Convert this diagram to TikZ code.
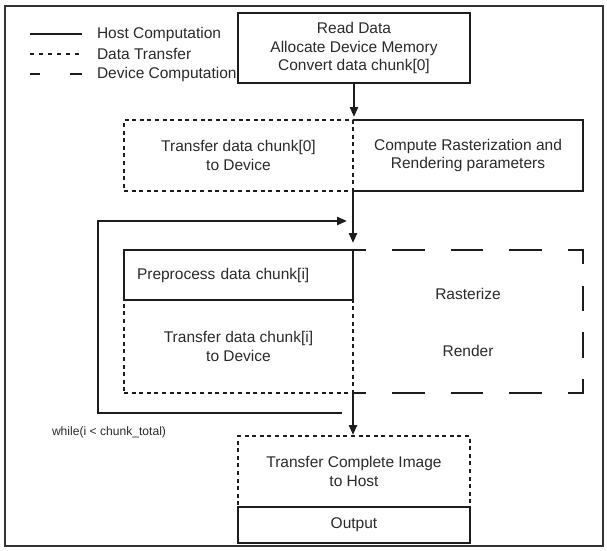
\documentclass[tikz,border=0pt]{standalone}
\usepackage{fontspec}
\setmainfont{Liberation Sans}
\usetikzlibrary{arrows.meta}
\definecolor{ink}{HTML}{1C1C1C}
\definecolor{txt}{HTML}{2A2A2A}
\definecolor{framec}{HTML}{333333}
\newcommand{\mainfnt}{\fontsize{15.5}{18.5}\selectfont}
\newcommand{\smallfnt}{\fontsize{12.1}{14}\selectfont}
\tikzset{
  solidl/.style={draw=ink, line width=2.2pt},
  dotl/.style={draw=ink, line width=2.2pt, dash pattern=on 4pt off 3.6pt},
  devl/.style={draw=ink, line width=2.2pt, line cap=rect},
  arr/.style={draw=ink, line width=2.2pt, -{Triangle[length=10pt,width=8pt]}},
  solidbox/.style={rectangle, solidl, align=center},
  dotbox/.style={rectangle, dotl, align=center},
  plainbox/.style={rectangle, align=center},
  lbl/.style={text=txt, font=\mainfnt, inner sep=0pt, outer sep=0pt}
}
\begin{document}
\begin{tikzpicture}[x=1pt,y=-1pt, every node/.style={text=txt, font=\mainfnt, inner sep=0pt, outer sep=0pt}]
\useasboundingbox (0,0) rectangle (607,550);
\fill[white] (0,0) rectangle (607,550);
\draw[draw=framec, line width=2.4pt] (5,6) rectangle (603,546);

% legend
\draw[solidl] (30,34) -- (82,34);
\node[lbl, anchor=west] (lg1) at (97,34) {Host Computation};
\draw[dotl, dash pattern=on 4pt off 5pt] (30,54) -- (82,54);
\node[lbl, anchor=west] (lg2) at (97,54) {Data Transfer};
\draw[solidl] (30,74) -- (40,74);
\draw[solidl] (70,74) -- (82,74);
\node[lbl, anchor=west] (lg3) at (97,74) {Device Computation};

% top box
\node[solidbox, minimum width=232pt, minimum height=70pt] (read) at (354,48)
  {Read Data\\Allocate Device Memory\\Convert data chunk[0]};

% row 2
\node[dotbox, minimum width=229pt, minimum height=71pt] (tr0) at (238.5,155.5)
  {Transfer data chunk[0]\\to Device};
\node[plainbox, minimum width=230pt, minimum height=71pt] (comp) at (468,155.5)
  {Compute Rasterization and\\Rendering parameters};
\draw[solidl] (comp.north west) -- (comp.north east) -- (comp.south east) -- (comp.south west);

% row 3
\node[dotbox, minimum width=229pt, minimum height=93pt] (tri) at (238.5,346.5)
  {Transfer data chunk[i]\\to Device};
\node[rectangle, solidl, minimum width=229pt, minimum height=50pt, text width=203pt,
  inner xsep=13pt, align=left] (pre) at (238.5,275) {Preprocess data chunk[i]};
\node[plainbox, minimum width=230pt, minimum height=143pt] (dev) at (468,321.5) {};
\node (rast) at (468,294) {Rasterize};
\node (rend) at (468,351) {Render};
\draw[devl, dash pattern=on 30pt off 28.5pt, dash phase=18pt] (dev.north west) -- (dev.north east);
\draw[devl, dash pattern=on 23pt off 23.7pt, dash phase=10pt] (dev.north east) -- (dev.south east);
\draw[devl, dash pattern=on 30pt off 28.5pt, dash phase=18pt] (dev.south west) -- (dev.south east);

% bottom
\node[dotbox, minimum width=232pt, minimum height=71pt] (tci) at (354,471.5)
  {Transfer Complete Image\\to Host};
\node[solidbox, minimum width=232pt, minimum height=36pt] (out) at (354,525) {Output};

% arrows
\draw[arr, shorten >=3pt] (read.south) -- (read.south |- tr0.north);
\draw[arr, shorten >=7pt] (tr0.south east) -- (pre.north east);
\draw[arr, shorten >=1pt] (tri.south east) -- (tri.south east |- tci.north);

% loop
\coordinate (lpB) at (342,413);
\coordinate (lpBL) at (98,413);
\coordinate (lpTL) at (98,221);
\coordinate (lpT) at (347,221);
\draw[arr] (lpB) -- (lpBL) -- (lpTL) -- (lpT);
\node[anchor=west, font=\smallfnt] (wh) at (52,432) {while(i < chunk\_total)};
\end{tikzpicture}
\end{document}
